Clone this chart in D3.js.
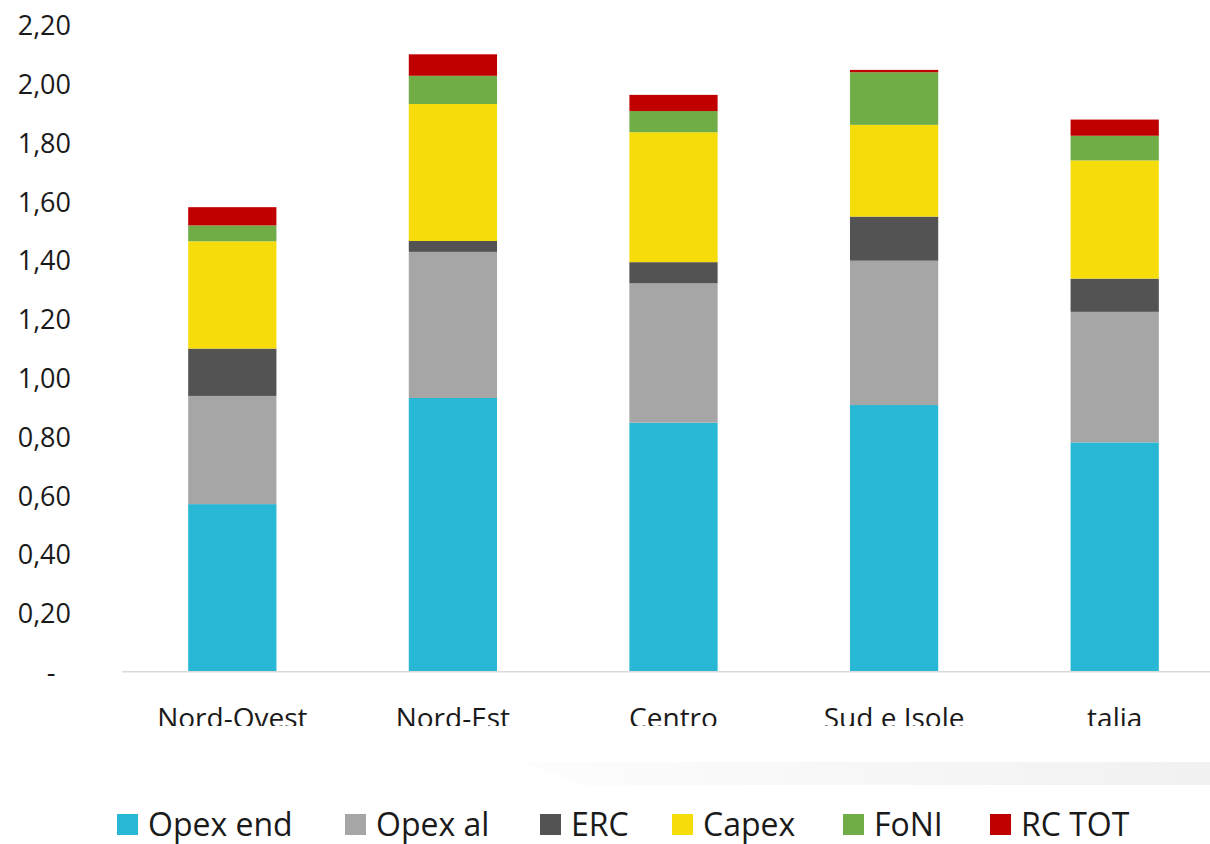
<!DOCTYPE html>
<html>
<head>
<meta charset="utf-8">
<script src="https://cdn.jsdelivr.net/npm/d3@7"></script>
<style>
  html, body { margin: 0; padding: 0; background: #ffffff; }
  svg { display: block; }
  text { font-family: "Open Sans", "DejaVu Sans", sans-serif; fill: #1a1a1a; }
</style>
</head>
<body>
<svg id="chart" width="1210" height="844"></svg>
<script>
// Categories (macro-areas)
const categories = ["Nord-Ovest", "Nord-Est", "Centro", "Sud e Isole", "talia"];

// Stacked components, one array per series (€/m³)
const opexEnd = [0.570, 0.931, 0.847, 0.907, 0.780];
const opexAl  = [0.368, 0.497, 0.474, 0.491, 0.444];
const erc     = [0.161, 0.037, 0.072, 0.150, 0.113];
const capex   = [0.365, 0.466, 0.442, 0.312, 0.402];
const foni    = [0.054, 0.096, 0.072, 0.179, 0.084];
const rcTot   = [0.062, 0.073, 0.055, 0.008, 0.055];

const seriesNames  = ["Opex end", "Opex al", "ERC", "Capex", "FoNI", "RC TOT"];
const seriesValues = [opexEnd, opexAl, erc, capex, foni, rcTot];
const seriesColors = ["#29B7D6", "#A6A6A6", "#535353", "#F6DC0A", "#70AD47", "#C00000"];

const tickValues = [0, 0.2, 0.4, 0.6, 0.8, 1.0, 1.2, 1.4, 1.6, 1.8, 2.0, 2.2];

const svg = d3.select("#chart");

// Table for the stack layout
const table = categories.map((c, i) => {
  const row = { cat: c };
  seriesNames.forEach((s, k) => { row[s] = seriesValues[k][i]; });
  return row;
});
const stacked = d3.stack().keys(seriesNames)(table);

const x = d3.scaleBand()
  .domain(categories)
  .range([122, 1225])
  .paddingInner(0.6)
  .paddingOuter(0.3);

const y = d3.scaleLinear()
  .domain([0, 2.2])
  .range([671.7, 24.9]);

const color = d3.scaleOrdinal().domain(seriesNames).range(seriesColors);

// Faint decorative band behind the legend area
const bandGrad = svg.append("defs").append("linearGradient")
  .attr("id", "bandGrad").attr("x1", "0%").attr("x2", "100%");
bandGrad.append("stop").attr("offset", "0%").attr("stop-color", "#fdfdfd");
bandGrad.append("stop").attr("offset", "100%").attr("stop-color", "#f1f1f1");
svg.append("path")
  .attr("d", "M520,762 L1210,762 L1210,785 L585,785 L548,772 Z")
  .attr("fill", "url(#bandGrad)");

// Y axis labels (comma decimals, dash for zero)
const fmt = v => v === 0 ? "-" : d3.format(".2f")(v).replace(".", ",");
const yAxis = d3.axisLeft(y).tickValues(tickValues).tickFormat(fmt).tickSize(0).tickPadding(0);
const gy = svg.append("g").attr("transform", "translate(71,0)").call(yAxis);
gy.select(".domain").remove();
gy.selectAll("text")
  .attr("font-family", "Open Sans")
  .attr("font-size", 27)
  .attr("fill", "#1a1a1a")
  .attr("dy", "0.36em")
  .filter(d => d === 0)
  .attr("text-anchor", "middle")
  .attr("x", -20);

// Stacked bars
svg.append("g")
  .selectAll("g")
  .data(stacked)
  .join("g")
  .attr("fill", d => color(d.key))
  .selectAll("rect")
  .data(d => d)
  .join("rect")
  .attr("x", d => x(d.data.cat))
  .attr("width", x.bandwidth())
  .attr("y", d => y(d[1]))
  .attr("height", d => y(d[0]) - y(d[1]));

// Category axis
svg.append("line")
  .attr("x1", 122).attr("x2", 1210)
  .attr("y1", y(0)).attr("y2", y(0))
  .attr("stroke", "#d9d9d9").attr("stroke-width", 1.5);

svg.append("defs").append("clipPath").attr("id", "xclip")
  .append("rect").attr("x", 0).attr("y", 680).attr("width", 1210).attr("height", 46);

const xAxis = d3.axisBottom(x).tickSize(0).tickPadding(0);
const gx = svg.append("g")
  .attr("clip-path", "url(#xclip)")
  .append("g")
  .attr("transform", "translate(0,728)")
  .call(xAxis);
gx.select(".domain").remove();
gx.selectAll("text")
  .attr("font-family", "Open Sans")
  .attr("font-size", 28)
  .attr("fill", "#1a1a1a")
  .attr("y", 0)
  .attr("dy", 0);

// Legend
const legendX = [117, 345, 540, 672, 843, 990];
const legend = svg.append("g");
const items = legend.selectAll("g")
  .data(seriesNames)
  .join("g")
  .attr("transform", (d, i) => `translate(${legendX[i]},0)`);
items.append("rect")
  .attr("x", 0).attr("y", 814)
  .attr("width", 21).attr("height", 21)
  .attr("fill", d => color(d));
items.append("text")
  .attr("x", 31).attr("y", 836)
  .attr("font-size", 32)
  .text(d => d);
</script>
</body>
</html>
